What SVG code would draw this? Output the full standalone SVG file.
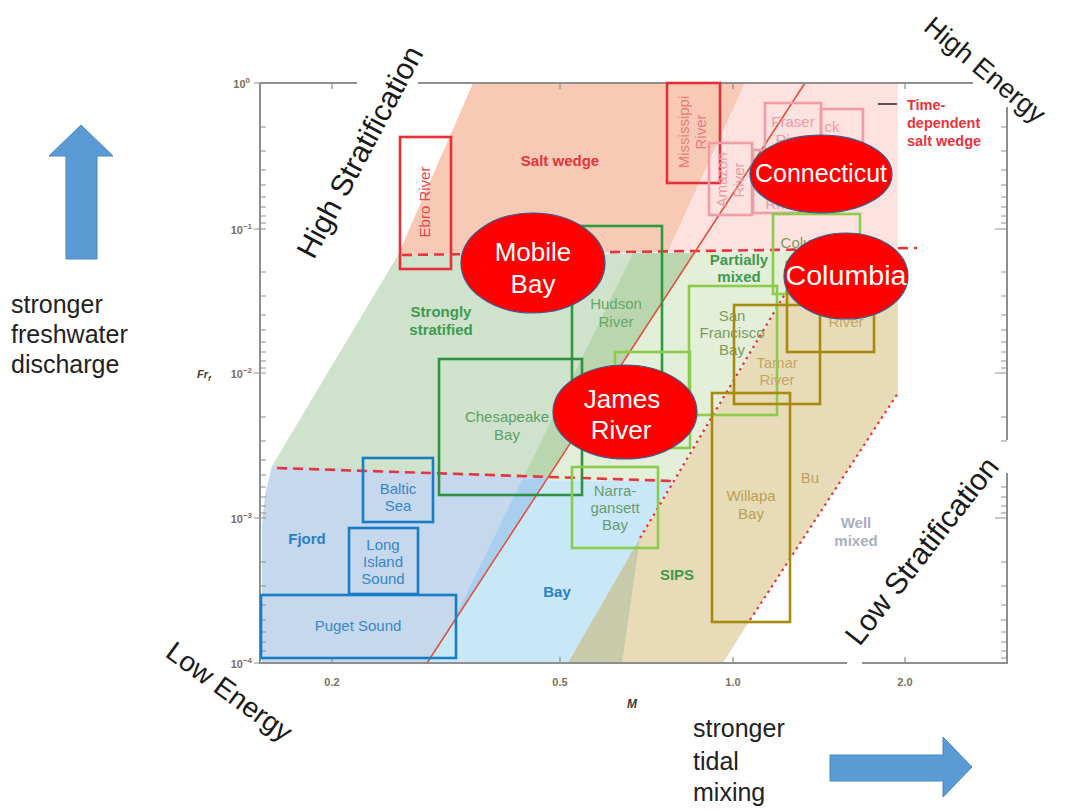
<svg xmlns="http://www.w3.org/2000/svg" width="1071" height="810" viewBox="0 0 1071 810">
<style>
.reg{font-family:"Liberation Sans",Arial,sans-serif;font-weight:bold;font-size:15px;text-anchor:middle}
.lbl{font-family:"Liberation Sans",Arial,sans-serif;font-size:15px;text-anchor:middle}
.big{font-family:"Liberation Sans",Arial,sans-serif;fill:#1a1a1a;text-anchor:middle}
.ell{fill:#ff0000;stroke:#3d5a8c;stroke-width:1.2}
.et{font-family:"Liberation Sans",Arial,sans-serif;fill:#ffffff;font-size:26px;text-anchor:middle}
.tick{font-family:"Liberation Sans",Arial,sans-serif;font-size:11px;fill:#7d6e60;font-weight:bold;text-anchor:end}
.box{fill:none;stroke-width:2.6}
.ax{stroke:#8e8e8e;stroke-width:2;fill:none}
.mt{stroke:#8e8e8e;stroke-width:1.2}
</style>
<rect width="1071" height="810" fill="#ffffff"/>
<g id="regions">
  <polygon points="473,83 745,83 668,252 398,255" fill="#f8cab5"/>
  <polygon points="745,83 898,83 898,249 668,252" fill="#fde2e0"/>
  <polygon points="398,255 694,253 547,477 277,468 272,466" fill="#cfe2cb"/>
  <polygon points="633,253 898,250 898,280 795,280 673,481 522,480" fill="#e4efda"/>
  <polygon points="633,253 694,253 547,477 522,480" fill="#bad6ae"/>
  <polygon points="272,466 547,477 427,663 262,663 262,525 265,495" fill="#c5d8ee"/>
  <polygon points="522,480 673,481 640,538 622,663 427,663 448,631" fill="#c8e8f8"/>
  <polygon points="522,480 547,477 448,631" fill="#a9cfee"/>
  <polygon points="568,663 640,538 795,280 898,280 898,393 750,620 723,663" fill="#e8dcb8"/>
  <polygon points="640,538 622,663 568,663" fill="#c8cba9"/>
</g>
<g id="connectors" fill="none">
  <line x1="402" y1="255" x2="917" y2="248" stroke="#e8343a" stroke-width="2.6" stroke-dasharray="10,6"/>
  <line x1="277" y1="468" x2="673" y2="481" stroke="#e8343a" stroke-width="2.6" stroke-dasharray="10,6"/>
  <line x1="427" y1="663" x2="805" y2="83" stroke="#e0503c" stroke-width="1.6"/>
  <line x1="640" y1="538" x2="795" y2="277" stroke="#e8343a" stroke-width="2.2" stroke-dasharray="2.5,4"/>
  <line x1="750" y1="620" x2="898" y2="393" stroke="#e8343a" stroke-width="2.2" stroke-dasharray="2.5,4"/>
  <line x1="878" y1="104" x2="897" y2="104" stroke="#555555" stroke-width="2"/>
</g>
<g id="axes">
  <path class="ax" d="M260,83 H357 M418,83 H973"/>
  <path class="ax" d="M260,83 V663 H847 M862,663 H1007 V473 M1007,440 V107"/>
  <path class="mt" d="M332,83 v6 M560,83 v6 M733,83 v6 M905,83 v6 M332,663 v-6 M560,663 v-6 M733,663 v-6 M905,663 v-6"/>
  <path class="mt" d="M254,83 h12 M254,229 h12 M254,373 h12 M254,518 h12 M254,663 h12
  M260,127 h6 M260,151 h6 M260,170 h6 M260,185 h6 M260,197 h6 M260,207 h6 M260,216 h6 M260,223 h6
  M260,272 h6 M260,296 h6 M260,315 h6 M260,330 h6 M260,342 h6 M260,352 h6 M260,361 h6 M260,368 h6
  M260,417 h6 M260,441 h6 M260,460 h6 M260,475 h6 M260,487 h6 M260,497 h6 M260,506 h6 M260,513 h6
  M260,562 h6 M260,586 h6 M260,605 h6 M260,620 h6 M260,632 h6 M260,642 h6 M260,651 h6 M260,658 h6
  M1001,127 h6 M1001,151 h6 M1001,170 h6 M1001,185 h6 M1001,197 h6 M1001,207 h6 M1001,216 h6 M1001,223 h6 M995,229 h12
  M1001,272 h6 M1001,296 h6 M1001,315 h6 M1001,330 h6 M1001,342 h6 M1001,352 h6 M1001,361 h6 M1001,368 h6 M995,373 h12
  M1001,417 h6 M1001,441 h6 M1001,487 h6 M1001,497 h6 M1001,506 h6 M1001,513 h6 M995,518 h12
  M1001,562 h6 M1001,586 h6 M1001,605 h6 M1001,620 h6 M1001,632 h6 M1001,642 h6 M1001,651 h6 M1001,658 h6"/>
  <text class="tick" x="250" y="88">10<tspan dy="-5" font-size="8">0</tspan></text>
  <text class="tick" x="252" y="234">10<tspan dy="-5" font-size="8">−1</tspan></text>
  <text class="tick" x="252" y="378">10<tspan dy="-5" font-size="8">−2</tspan></text>
  <text class="tick" x="252" y="523">10<tspan dy="-5" font-size="8">−3</tspan></text>
  <text class="tick" x="252" y="668">10<tspan dy="-5" font-size="8">−4</tspan></text>
  <text class="tick" x="332" y="686" style="text-anchor:middle">0.2</text>
  <text class="tick" x="560" y="686" style="text-anchor:middle">0.5</text>
  <text class="tick" x="733" y="686" style="text-anchor:middle">1.0</text>
  <text class="tick" x="905" y="686" style="text-anchor:middle">2.0</text>
  <text x="632" y="708" font-family="Liberation Sans, Arial, sans-serif" font-size="12" font-weight="bold" font-style="italic" fill="#3a3a3a" text-anchor="middle">M</text>
  <text x="197" y="378" font-family="Liberation Sans, Arial, sans-serif" font-size="11" font-weight="bold" font-style="italic" fill="#3a3a3a">Fr<tspan dy="3" font-size="8">f</tspan></text>
</g>
<g id="estuaries">
  <g id="ebro"><rect class="box" x="400" y="137" width="51" height="132" stroke="#e8303a"/>
    <text class="lbl" transform="translate(430,202) rotate(-90)" fill="#e8444a">Ebro River</text></g>
  <g id="mississippi"><rect class="box" x="667" y="83" width="53" height="100" stroke="#e0303a"/>
    <text class="lbl" transform="translate(689,132) rotate(-90)" fill="#ea7a80">Mississippi</text>
    <text class="lbl" transform="translate(706,132) rotate(-90)" fill="#ea7a80">River</text></g>
  <g id="amazon"><rect class="box" x="709" y="143" width="43" height="72" stroke="#f09ca4"/>
    <text class="lbl" transform="translate(727,180) rotate(-90)" fill="#ee9aa0">Amazon</text>
    <text class="lbl" transform="translate(744,180) rotate(-90)" fill="#ee9aa0">River</text></g>
  <g id="rhine"><rect class="box" x="753" y="150" width="47" height="63" stroke="#f09ca4"/>
    <text class="lbl" x="775" y="209" fill="#ee9aa0">Rh</text></g>
  <g id="fraser"><rect class="box" x="765" y="103" width="56" height="70" stroke="#f09ca4"/>
    <text class="lbl" x="793" y="127" fill="#ee9aa0">Fraser</text>
    <text class="lbl" x="793" y="145" fill="#ee9aa0">River</text></g>
  <g id="ck"><rect class="box" x="821" y="109" width="42" height="60" stroke="#f09ca4"/>
    <text class="lbl" x="832" y="132" fill="#ee9aa0">ck</text></g>
  <g id="columbia-river"><rect class="box" x="773" y="214" width="87" height="80" stroke="#8ccc4c"/>
    <text class="lbl" x="796" y="248" fill="#7f9a5f">Colu</text></g>
  <g id="river-olive"><rect class="box" x="787" y="262" width="87" height="90" stroke="#a88a10"/>
    <text class="lbl" x="846" y="327" fill="#c0a868">River</text></g>
  <g id="hudson"><rect class="box" x="572" y="226" width="90" height="214" stroke="#2e9a3e"/>
    <text class="lbl" x="616" y="309" fill="#62a868">Hudson</text>
    <text class="lbl" x="616" y="327" fill="#62a868">River</text></g>
  <g id="sf"><rect class="box" x="689" y="286" width="88" height="129" stroke="#8ccc4c"/>
    <text class="lbl" x="732" y="321" fill="#7f9a5f">San</text>
    <text class="lbl" x="732" y="338" fill="#7f9a5f">Francisco</text>
    <text class="lbl" x="732" y="355" fill="#7f9a5f">Bay</text></g>
  <g id="tamar"><rect class="box" x="734" y="305" width="86" height="99" stroke="#a88a10"/>
    <text class="lbl" x="777" y="368" fill="#c0a868">Tamar</text>
    <text class="lbl" x="777" y="385" fill="#c0a868">River</text></g>
  <g id="lightgreen"><rect class="box" x="615" y="352" width="75" height="96" stroke="#8ccc4c"/></g>
  <g id="chesapeake"><rect class="box" x="439" y="359" width="143" height="136" stroke="#2e9040"/>
    <text class="lbl" x="507" y="422" fill="#5ea066">Chesapeake</text>
    <text class="lbl" x="507" y="440" fill="#5ea066">Bay</text></g>
  <g id="willapa"><rect class="box" x="712" y="393" width="78" height="229" stroke="#a88a10"/>
    <text class="lbl" x="751" y="501" fill="#b8a050">Willapa</text>
    <text class="lbl" x="751" y="519" fill="#b8a050">Bay</text></g>
  <g id="narragansett"><rect class="box" x="572" y="467" width="86" height="81" stroke="#8ccc4c"/>
    <text class="lbl" x="615" y="496" fill="#6a9a70">Narra-</text>
    <text class="lbl" x="615" y="513" fill="#6a9a70">gansett</text>
    <text class="lbl" x="615" y="530" fill="#6a9a70">Bay</text></g>
  <g id="baltic"><rect class="box" x="363" y="458" width="70" height="64" stroke="#1a7cc4"/>
    <text class="lbl" x="398" y="494" fill="#3a86c8">Baltic</text>
    <text class="lbl" x="398" y="511" fill="#3a86c8">Sea</text></g>
  <g id="longisland"><rect class="box" x="349" y="528" width="69" height="66" stroke="#1a7cc4"/>
    <text class="lbl" x="383" y="550" fill="#3a86c8">Long</text>
    <text class="lbl" x="383" y="567" fill="#3a86c8">Island</text>
    <text class="lbl" x="383" y="584" fill="#3a86c8">Sound</text></g>
  <g id="puget"><rect class="box" x="261" y="595" width="195" height="63" stroke="#1a7cc4"/>
    <text class="lbl" x="358" y="631" fill="#3a86c8" font-size="16">Puget Sound</text></g>
</g>
<g id="region-labels">
  <text class="reg" x="560" y="166" fill="#e4343c">Salt wedge</text>
  <text class="reg" x="907" y="110" fill="#e8343c" style="text-anchor:start;font-size:14.5px">Time-</text>
  <text class="reg" x="907" y="128" fill="#e8343c" style="text-anchor:start;font-size:14.5px">dependent</text>
  <text class="reg" x="907" y="146" fill="#e8343c" style="text-anchor:start;font-size:14.5px">salt wedge</text>
  <text class="reg" x="441" y="317" fill="#3e9a4f">Strongly</text>
  <text class="reg" x="441" y="335" fill="#3e9a4f">stratified</text>
  <text class="reg" x="739" y="265" fill="#3e9a4f">Partially</text>
  <text class="reg" x="739" y="282" fill="#3e9a4f">mixed</text>
  <text class="reg" x="307" y="544" fill="#2a7fc6">Fjord</text>
  <text class="reg" x="557" y="597" fill="#2a7fc6">Bay</text>
  <text class="reg" x="677" y="580" fill="#3e9a4f">SIPS</text>
  <text class="reg" x="856" y="528" fill="#a9afc0">Well</text>
  <text class="reg" x="856" y="546" fill="#a9afc0">mixed</text>
  <text class="lbl" x="810" y="483" fill="#c0a060">Bu</text>
</g>
<g id="highlights">
  <g id="mobile-bay"><ellipse class="ell" cx="533" cy="263" rx="72" ry="50"/>
    <text class="et" x="533" y="261">Mobile</text><text class="et" x="533" y="293">Bay</text></g>
  <g id="james-river"><ellipse class="ell" cx="625" cy="412" rx="72" ry="47"/>
    <text class="et" x="622" y="408">James</text><text class="et" x="621" y="439">River</text></g>
  <g id="connecticut"><ellipse class="ell" cx="821" cy="174" rx="71" ry="39"/>
    <text class="et" x="821" y="182" style="font-size:25px">Connecticut</text></g>
  <g id="columbia"><ellipse class="ell" cx="846" cy="276" rx="62" ry="43"/>
    <text class="et" x="846" y="285" style="font-size:27px" textLength="121" lengthAdjust="spacingAndGlyphs">Columbia</text></g>
</g>
<g id="corner-labels">
  <text class="big" font-size="30" transform="translate(360,152) rotate(-62)" dy="10">High Stratification</text>
  <text class="big" font-size="27" transform="translate(985,70) rotate(40)" dy="9">High Energy</text>
  <text class="big" font-size="28" transform="translate(229,692) rotate(36)" dy="9">Low Energy</text>
  <text class="big" font-size="30" transform="translate(922,551) rotate(-52)" dy="10">Low Stratification</text>
</g>
<g id="arrows">
  <polygon points="66,259 97,259 97,156 113,156 81,125 49,156 66,156" fill="#5b9bd5" stroke="#4a86c0" stroke-width="1"/>
  <polygon points="830,755 943,755 943,737 972,767 943,797 943,781 830,781" fill="#5b9bd5" stroke="#4a86c0" stroke-width="1"/>
  <g font-family="Liberation Sans, Arial, sans-serif" font-size="25" fill="#222222">
    <text x="11" y="313">stronger</text>
    <text x="11" y="343">freshwater</text>
    <text x="11" y="373">discharge</text>
    <text x="693" y="737">stronger</text>
    <text x="693" y="770">tidal</text>
    <text x="693" y="801">mixing</text>
  </g>
</g>
</svg>
